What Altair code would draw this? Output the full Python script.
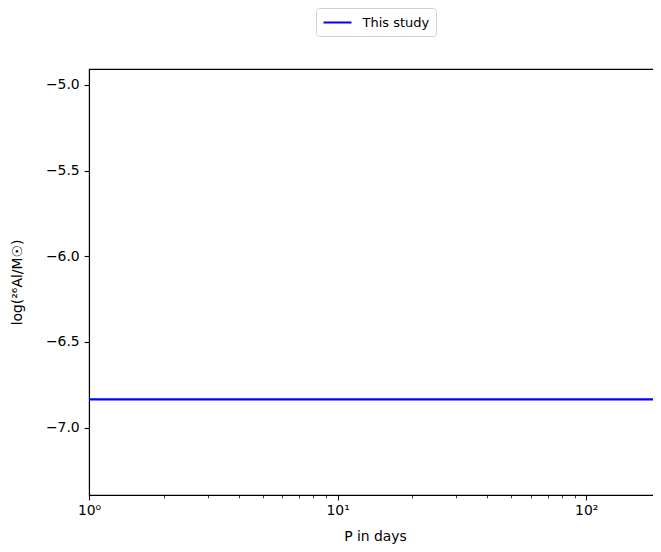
import altair as alt
import pandas as pd

# ---- data ----
P_days = [1, 200]
log_al26 = [-6.835, -6.835]
series = ["This study", "This study"]

x_major = [1, 10, 100]
x_minor = [2, 3, 4, 5, 6, 7, 8, 9, 20, 30, 40, 50, 60, 70, 80, 90, 200]
x_domain = [1, 200]
y_ticks = [-7.0, -6.5, -6.0, -5.5, -5.0]
y_domain = [-7.393, -4.907]

df = pd.DataFrame({"P": P_days, "logAl": log_al26, "series": series})

FONT = "DejaVu Sans"
FS = 13.9

major_test = "indexof([1, 10, 100], datum.value) >= 0"

chart = (
    alt.Chart(df)
    .mark_line(strokeWidth=2.1, clip=True)
    .encode(
        x=alt.X(
            "P:Q",
            scale=alt.Scale(type="log", domain=x_domain, nice=False),
            axis=alt.Axis(
                title="P in days",
                values=x_major + x_minor,
                labelExpr="datum.value == 1 ? '10⁰' : datum.value == 10 ? '10¹' : datum.value == 100 ? '10²' : ''",
                labelOverlap=False,
                labelFlush=False,
                tickSize={"condition": {"test": major_test, "value": 4.9}, "value": 2.8},
                tickWidth={"condition": {"test": major_test, "value": 1.1}, "value": 0.8},
                labelPadding=4,
                grid=False,
                titleX=286,
                titleY=45,
                titleBaseline="alphabetic",
            ),
        ),
        y=alt.Y(
            "logAl:Q",
            scale=alt.Scale(domain=y_domain, nice=False, zero=False),
            axis=alt.Axis(
                title="log(²⁶Al/M☉)",
                values=y_ticks,
                format=".1f",
                tickSize=4.9,
                tickWidth=1.1,
                labelPadding=4.9,
                grid=False,
                titleX=-71.5,
                titleY=213,
                titleAngle=270,
                titleAlign="center",
                titleBaseline="middle",
            ),
        ),
        color=alt.Color(
            "series:N",
            scale=alt.Scale(domain=["This study"], range=["#0000ff"]),
            legend=alt.Legend(
                title=None,
                orient="none",
                legendX=227,
                legendY=-61,
                symbolType="M-1,0H3",
                symbolSize=196,
                symbolStrokeWidth=2,
                symbolFillColor="transparent",
                labelFont=FONT,
                labelFontSize=13,
                labelColor="black",
                labelOffset=24,
                padding=6.5,
                strokeColor="#d0d0d0",
                fillColor="white",
                cornerRadius=3,
            ),
        ),
    )
    .properties(
        width=572,
        height=426,
        autosize=alt.AutoSizeParams(type="none"),
        padding={"left": 81, "top": 61, "right": -8, "bottom": 49},
    )
    .configure_axis(
        labelFont=FONT,
        labelFontSize=FS,
        labelColor="black",
        titleFont=FONT,
        titleFontSize=FS,
        titleFontWeight="normal",
        titleColor="black",
        domainColor="black",
        domainWidth=1.1,
        tickColor="black",
    )
    .configure_view(stroke="black", strokeWidth=1.1)
)

chart.save("out.html", embed_options={"renderer": "svg", "actions": False})
